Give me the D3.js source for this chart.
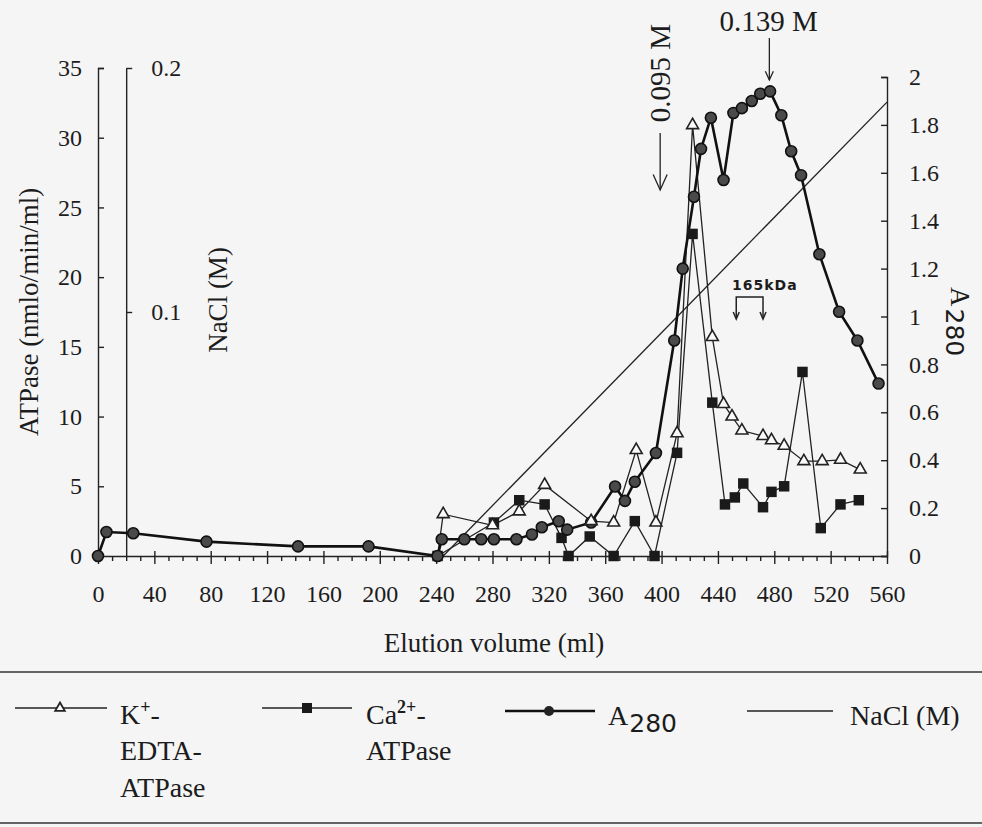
<!DOCTYPE html>
<html>
<head>
<meta charset="utf-8">
<script src="https://cdn.jsdelivr.net/npm/d3@7"></script>
<style>
body { margin: 0; background: #f5f5f5; }
svg { display: block; }
text { font-family: "Liberation Serif", "Times New Roman", serif; fill: #1c1c1c; }
.sans { font-family: "DejaVu Sans", sans-serif; }
</style>
</head>
<body>
<script>
// values (volume in ml)
var a280Vol = [0, 6, 25, 77, 142, 192, 241, 244, 260, 272, 281, 297, 308, 315, 327, 333, 350, 367, 374, 381, 396, 409, 415, 423, 428, 435, 444, 451, 457, 464, 470, 477, 485, 492, 499, 512, 526, 539, 554];
var a280Val = [0, 0.1, 0.095, 0.06, 0.04, 0.04, 0, 0.07, 0.07, 0.07, 0.07, 0.07, 0.09, 0.12, 0.145, 0.11, 0.14, 0.29, 0.23, 0.31, 0.43, 0.9, 1.2, 1.5, 1.7, 1.83, 1.57, 1.85, 1.87, 1.9, 1.93, 1.94, 1.84, 1.69, 1.59, 1.26, 1.02, 0.9, 0.72];

var kVol = [241, 245, 280, 299, 317, 350, 366, 382, 396, 411, 422, 436, 444, 450, 457, 472, 478, 487, 501, 514, 527, 541];
var kVal = [0, 3.0, 2.2, 3.2, 5.1, 2.5, 2.4, 7.6, 2.4, 8.8, 30.9, 15.7, 10.9, 10.0, 9.0, 8.6, 8.3, 7.9, 6.8, 6.8, 6.9, 6.2];

var caVol = [241, 281, 299, 317, 329, 334, 349, 366, 381, 395, 411, 422, 436, 445, 452, 458, 472, 478, 487, 500, 513, 527, 540];
var caVal = [0, 2.4, 4.0, 3.7, 1.3, 0, 1.4, 0, 2.5, 0, 7.4, 23.1, 11.0, 3.7, 4.2, 5.2, 3.5, 4.6, 5.0, 13.2, 2.0, 3.7, 4.0];

var naclVol = [245, 560];
var naclVal = [0, 0.186];

var xTicks = [0, 40, 80, 120, 160, 200, 240, 280, 320, 360, 400, 440, 480, 520, 560];
var atpTicks = [0, 5, 10, 15, 20, 25, 30, 35];
var a280Ticks = [0, 0.2, 0.4, 0.6, 0.8, 1, 1.2, 1.4, 1.6, 1.8, 2];
var naclTicks = [0.1, 0.2];

var svg = d3.select("body").append("svg")
    .attr("width", 982)
    .attr("height", 827);

var x = d3.scaleLinear().domain([0, 560]).range([98, 887]);
var yAtp = d3.scaleLinear().domain([0, 35]).range([556, 68]);
var yA = d3.scaleLinear().domain([0, 2]).range([556, 77]);
var yNa = d3.scaleLinear().domain([0, 0.2]).range([556, 68]);

// axes
function styleAxis(g, size) {
  g.selectAll(".domain").attr("stroke", "#222").attr("stroke-width", 1.4);
  g.selectAll(".tick line").attr("stroke", "#222").attr("stroke-width", 1.4);
  g.selectAll("text").attr("font-size", size).attr("fill", "#1c1c1c");
}

var gLeft = svg.append("g").attr("transform", "translate(" + x(0) + ",0)")
    .call(d3.axisLeft(yAtp).tickValues(atpTicks).tickSizeInner(-6).tickSizeOuter(-6).tickPadding(16));
styleAxis(gLeft, 24);

var gNa = svg.append("g").attr("transform", "translate(" + x(20) + ",0)")
    .call(d3.axisRight(yNa).tickValues(naclTicks).tickSizeInner(6).tickSizeOuter(0).tickPadding(19).tickFormat(function(d) { return d; }));
styleAxis(gNa, 24);

var gRight = svg.append("g").attr("transform", "translate(" + x(560) + ",0)")
    .call(d3.axisRight(yA).tickValues(a280Ticks).tickSizeInner(-6).tickSizeOuter(-6).tickPadding(22).tickFormat(function(d) { return d; }));
styleAxis(gRight, 24);

var minor = d3.range(10, 560, 10).filter(function(d) { return d % 40 != 0; });
var gMinor = svg.append("g").attr("transform", "translate(0," + yAtp(0) + ")")
    .call(d3.axisBottom(x).tickValues(minor).tickSize(5).tickFormat(""));
styleAxis(gMinor, 24);
gMinor.select(".domain").remove();

var gBottom = svg.append("g").attr("transform", "translate(0," + yAtp(0) + ")")
    .call(d3.axisBottom(x).tickValues(xTicks).tickSizeInner(8).tickSizeOuter(0).tickPadding(21));
styleAxis(gBottom, 24);
gBottom.selectAll(".tick line").attr("y1", -5);

// axis titles
svg.append("text")
    .attr("transform", "translate(38,312) rotate(-90)")
    .attr("text-anchor", "middle")
    .attr("font-size", 27)
    .text("ATPase (nmlo/min/ml)");

svg.append("text")
    .attr("transform", "translate(227,300) rotate(-90)")
    .attr("text-anchor", "middle")
    .attr("font-size", 27)
    .text("NaCl (M)");

svg.append("text")
    .attr("x", 494).attr("y", 652)
    .attr("text-anchor", "middle")
    .attr("font-size", 27)
    .text("Elution volume (ml)");

var aTitle = svg.append("text")
    .attr("transform", "translate(951,287) rotate(90)")
    .attr("font-size", 27);
aTitle.append("tspan").text("A");
aTitle.append("tspan").attr("class", "sans").attr("font-size", 25).attr("dy", 5).attr("dx", 2).text("280");

// series
function lineOf(vol, val, y) {
  return d3.line().x(function(i) { return x(vol[i]); }).y(function(i) { return y(val[i]); })(d3.range(vol.length));
}

svg.append("path")
    .attr("d", lineOf(naclVol, naclVal, yNa))
    .attr("fill", "none").attr("stroke", "#222").attr("stroke-width", 1.3);

svg.append("path")
    .attr("d", lineOf(kVol, kVal, yAtp))
    .attr("fill", "none").attr("stroke", "#222").attr("stroke-width", 1.3);

svg.append("path")
    .attr("d", lineOf(caVol, caVal, yAtp))
    .attr("fill", "none").attr("stroke", "#222").attr("stroke-width", 1.3);

svg.append("path")
    .attr("d", lineOf(a280Vol, a280Val, yA))
    .attr("fill", "none").attr("stroke", "#111").attr("stroke-width", 2.6);

var tri = d3.symbol().type(d3.symbolTriangle).size(62);
var sq = d3.symbol().type(d3.symbolSquare).size(110);

svg.append("g").selectAll("path").data(d3.range(caVol.length)).join("path")
    .attr("transform", function(i) { return "translate(" + x(caVol[i]) + "," + yAtp(caVal[i]) + ")"; })
    .attr("d", sq)
    .attr("fill", "#1a1a1a");

svg.append("g").selectAll("circle").data(d3.range(a280Vol.length)).join("circle")
    .attr("cx", function(i) { return x(a280Vol[i]); })
    .attr("cy", function(i) { return yA(a280Val[i]); })
    .attr("r", 5.5)
    .attr("fill", "#4a4a4a").attr("stroke", "#111").attr("stroke-width", 1.6);

svg.append("g").selectAll("path").data(d3.range(kVol.length).slice(1)).join("path")
    .attr("transform", function(i) { return "translate(" + x(kVol[i]) + "," + yAtp(kVal[i]) + ")"; })
    .attr("d", tri)
    .attr("fill", "#fafafa").attr("stroke", "#222").attr("stroke-width", 1.6);

// annotations
function arrow(px, y1, y2, w) {
  var g = svg.append("g").attr("fill", "none").attr("stroke", "#222").attr("stroke-width", 1.3);
  g.append("line").attr("x1", px).attr("x2", px).attr("y1", y1).attr("y2", y2);
  g.append("path").attr("d", "M" + (px - w) + "," + (y2 - 2.2 * w) + "L" + px + "," + y2 + "L" + (px + w) + "," + (y2 - 2.2 * w));
}

svg.append("text")
    .attr("transform", "translate(" + (x(399) + 10) + ",73) rotate(-90)")
    .attr("text-anchor", "middle")
    .attr("font-size", 29)
    .text("0.095 M");
arrow(x(399), 133, 190, 7);

svg.append("text")
    .attr("x", x(476)).attr("y", 31)
    .attr("text-anchor", "middle")
    .attr("font-size", 29)
    .text("0.139 M");
arrow(x(476.5), 38, 80, 4);

svg.append("text")
    .attr("class", "sans")
    .attr("x", x(450)).attr("y", 290)
    .attr("font-size", 14).attr("font-weight", "bold").attr("letter-spacing", 1)
    .text("165kDa");
var br = svg.append("g").attr("fill", "none").attr("stroke", "#222").attr("stroke-width", 1.5);
br.append("path").attr("d", "M" + x(453) + ",318V297H" + x(472) + "V318");
br.append("path").attr("d", "M" + (x(453) - 3) + ",312L" + x(453) + ",319L" + (x(453) + 3) + ",312");
br.append("path").attr("d", "M" + (x(472) - 3) + ",312L" + x(472) + ",319L" + (x(472) + 3) + ",312");

// legend
svg.append("line").attr("x1", 0).attr("x2", 982).attr("y1", 672).attr("y2", 672).attr("stroke", "#333").attr("stroke-width", 1.5);
svg.append("line").attr("x1", 0).attr("x2", 982).attr("y1", 823).attr("y2", 823).attr("stroke", "#333").attr("stroke-width", 1.5);

var lg = svg.append("g");
function legLine(x1, x2, y) {
  lg.append("line").attr("x1", x1).attr("x2", x2).attr("y1", y).attr("y2", y).attr("stroke", "#222").attr("stroke-width", 1.5);
}
legLine(15, 107, 708);
lg.append("path").attr("transform", "translate(60,708)").attr("d", d3.symbol().type(d3.symbolTriangle).size(40))
    .attr("fill", "#fafafa").attr("stroke", "#222").attr("stroke-width", 1.8);
var t1 = lg.append("text").attr("x", 120).attr("y", 724).attr("font-size", 28);
t1.append("tspan").text("K");
t1.append("tspan").attr("font-size", 18).attr("font-weight", "bold").attr("dy", -11).text("+");
t1.append("tspan").attr("dy", 11).text("-");
lg.append("text").attr("x", 120).attr("y", 760).attr("font-size", 28).text("EDTA-");
lg.append("text").attr("x", 120).attr("y", 797).attr("font-size", 28).text("ATPase");

legLine(262, 352, 708);
lg.append("rect").attr("x", 302).attr("y", 703).attr("width", 10).attr("height", 10).attr("fill", "#1a1a1a");
var t2 = lg.append("text").attr("x", 366).attr("y", 724).attr("font-size", 28);
t2.append("tspan").text("Ca");
t2.append("tspan").attr("font-size", 18).attr("font-weight", "bold").attr("dy", -11).text("2+");
t2.append("tspan").attr("dy", 11).text("-");
lg.append("text").attr("x", 366).attr("y", 760).attr("font-size", 28).text("ATPase");

lg.append("line").attr("x1", 505).attr("x2", 595).attr("y1", 711).attr("y2", 711).attr("stroke", "#111").attr("stroke-width", 2.6);
lg.append("circle").attr("cx", 549).attr("cy", 711).attr("r", 5).attr("fill", "#222");
var t3 = lg.append("text").attr("x", 608).attr("y", 725).attr("font-size", 28);
t3.append("tspan").text("A");
t3.append("tspan").attr("class", "sans").attr("font-size", 25).attr("dy", 7).attr("dx", 1).text("280");

legLine(747, 833, 711);
lg.append("text").attr("x", 850).attr("y", 725).attr("font-size", 28).text("NaCl (M)");
</script>
</body>
</html>
